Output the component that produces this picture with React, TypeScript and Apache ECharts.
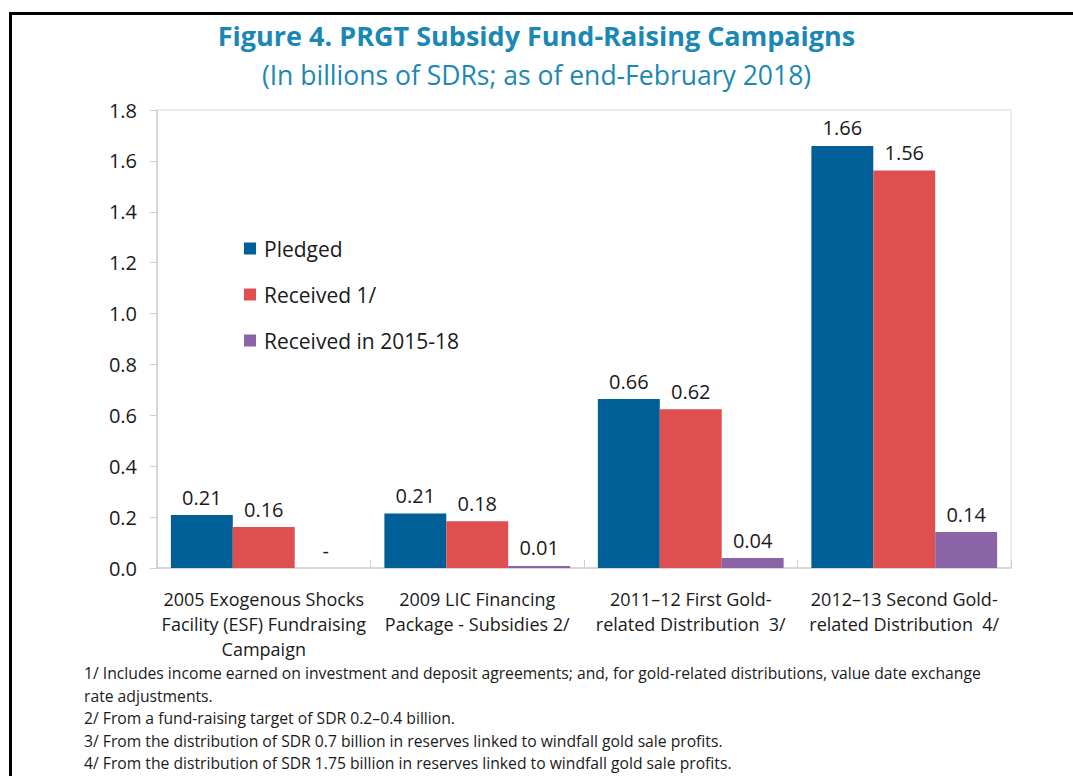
import React, { useEffect, useRef } from "react";
import * as echarts from "echarts";

const categories = [
  "2005 Exogenous Shocks\nFacility (ESF) Fundraising\nCampaign",
  "2009 LIC Financing\nPackage - Subsidies 2/",
  "2011\u201312 First Gold-\nrelated Distribution  3/",
  "2012\u201313 Second Gold-\nrelated Distribution  4/",
];
const seriesNames = ["Pledged", "Received 1/", "Received in 2015-18"];
const pledged = [0.208, 0.214, 0.664, 1.659];
const received = [0.161, 0.184, 0.624, 1.562];
const received1518 = [0, 0.008, 0.039, 0.141];
const colors = ["#005f96", "#df4f4f", "#8a64a6"];
const footnotes = [
  "1/ Includes income earned on investment and deposit agreements; and, for gold-related distributions, value date exchange",
  "rate adjustments.",
  "2/ From a fund-raising target of SDR 0.2\u20130.4 billion.",
  "3/ From the distribution of SDR 0.7 billion in reserves linked to windfall gold sale profits.",
  "4/ From the distribution of SDR 1.75 billion in reserves linked to windfall gold sale profits.",
];
const title = "Figure 4. PRGT Subsidy Fund-Raising Campaigns";
const subtitle = "(In billions of SDRs; as of end-February 2018)";

const FONT = "Open Sans";
const TXT = "#1a1a1a";

export default function App() {
  const ref = useRef<HTMLDivElement>(null);
  useEffect(() => {
    if (!ref.current) return;
    const chart = echarts.init(ref.current, undefined, { renderer: "svg" });
    const label = {
      show: true,
      position: "top",
      distance: 8,
      fontFamily: FONT,
      fontSize: 20,
      color: TXT,
      formatter: (p: any) => (p.value === 0 ? "-" : Number(p.value).toFixed(2)),
    };
    const mk = (name: string, data: number[], color: string) => ({
      name,
      type: "bar",
      data,
      barGap: "0%",
      barCategoryGap: "13%",
      itemStyle: { color },
      label,
    });
    chart.setOption({
      animation: false,
      backgroundColor: "#ffffff",
      title: [
        {
          text: title,
          left: "center",
          top: 17,
          textStyle: { fontFamily: FONT, fontSize: 27, fontWeight: "bold", color: "#1b87b5" },
        },
        {
          text: subtitle,
          left: "center",
          top: 56,
          textStyle: { fontFamily: FONT, fontSize: 26.5, fontWeight: "normal", color: "#1b87b5" },
        },
      ],
      legend: {
        orient: "vertical",
        left: 239,
        top: 233,
        itemWidth: 12,
        itemHeight: 12,
        itemGap: 25,
        icon: "rect",
        data: seriesNames,
        textStyle: { fontFamily: FONT, fontSize: 21, color: TXT, padding: [0, 0, 0, 3] },
      },
      grid: {
        left: 157,
        right: 62,
        top: 110,
        bottom: 208,
        show: true,
        borderColor: "#d9d9d9",
        borderWidth: 1,
      },
      xAxis: {
        type: "category",
        data: categories,
        axisLine: { lineStyle: { color: "#d0d0d0", width: 1.5 } },
        axisTick: { show: true, inside: true, length: 8, lineStyle: { color: "#d0d0d0" } },
        axisLabel: {
          fontFamily: FONT,
          fontSize: 18,
          color: TXT,
          lineHeight: 25,
          margin: 18,
          interval: 0,
        },
      },
      yAxis: {
        type: "value",
        min: 0,
        max: 1.8,
        interval: 0.2,
        splitLine: { show: false },
        axisLine: { show: true, lineStyle: { color: "#d0d0d0", width: 1.5 } },
        axisTick: { show: true, length: 7, lineStyle: { color: "#d0d0d0" } },
        axisLabel: {
          fontFamily: FONT,
          fontSize: 20,
          color: TXT,
          margin: 20,
          formatter: (v: number) => v.toFixed(1),
        },
      },
      series: [
        mk(seriesNames[0], pledged, colors[0]),
        mk(seriesNames[1], received, colors[1]),
        mk(seriesNames[2], received1518, colors[2]),
      ],
      graphic: [
        {
          type: "polyline",
          shape: { points: [[10.5, 776], [10.5, 13.5], [1073, 13.5]] },
          style: { fill: "none", stroke: "#000", lineWidth: 3 },
          silent: true,
        },
        ...footnotes.map((t, i) => ({
          type: "text",
          left: 84,
          top: 665 + i * 22.6,
          style: { text: t, fontFamily: FONT, fontSize: 15.7, fill: TXT },
        })),
      ],
    });
    return () => chart.dispose();
  }, []);
  return (
    <div
      ref={ref}
      style={{ position: "absolute", left: 0, top: 0, width: 1073, height: 776, overflow: "hidden" }}
    />
  );
}
